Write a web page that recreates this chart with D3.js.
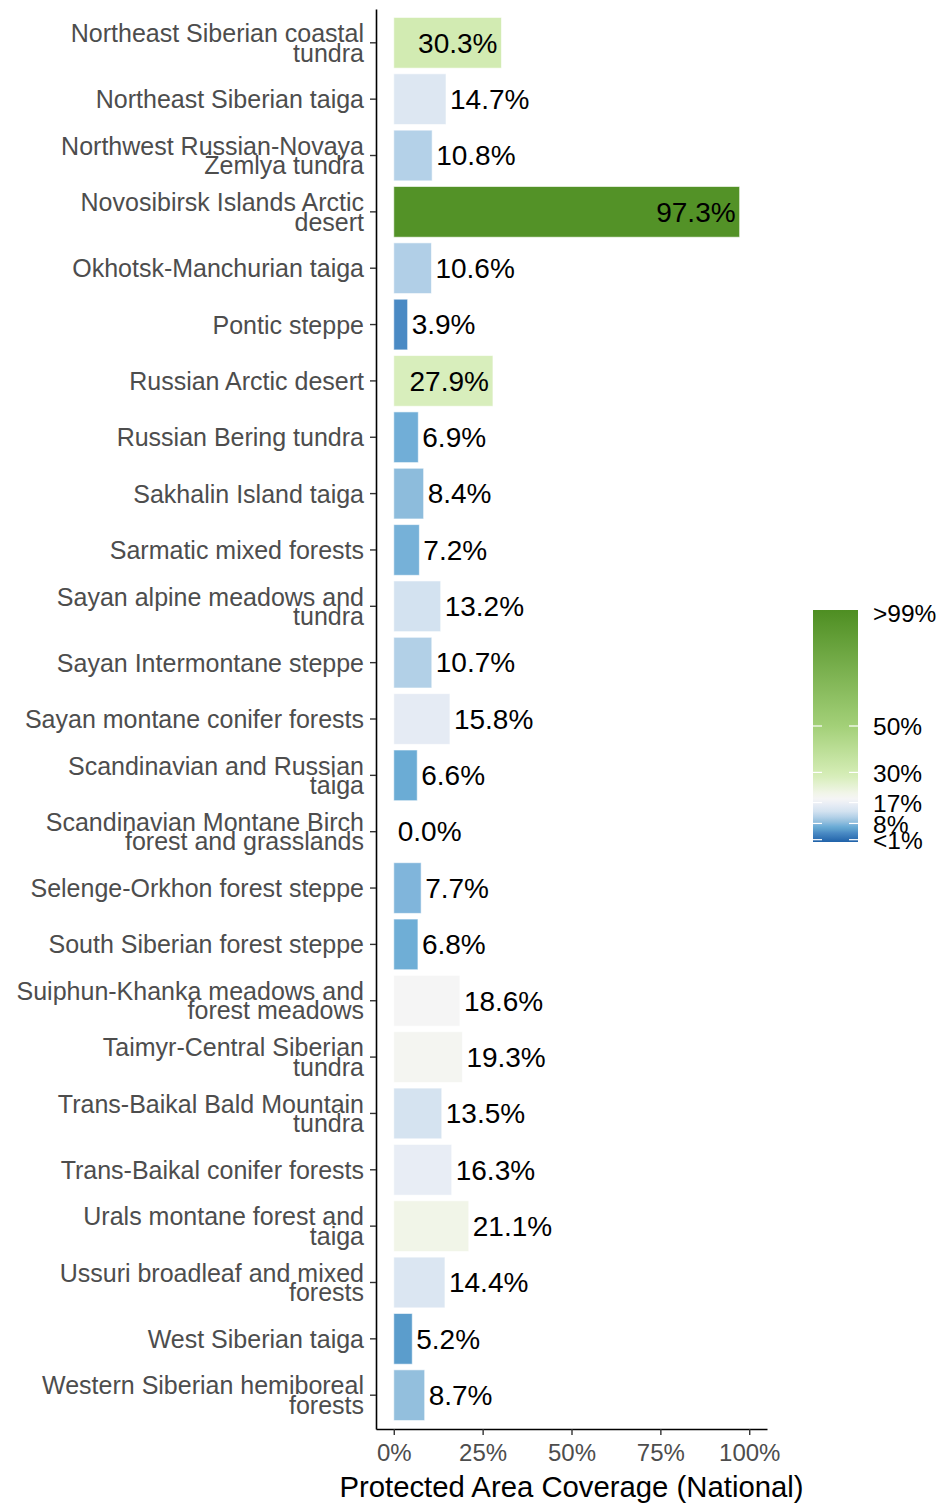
<!DOCTYPE html>
<html>
<head>
<meta charset="utf-8">
<script src="https://cdn.jsdelivr.net/npm/d3@7"></script>
<style>
  body { margin: 0; background: #fff; }
  text { font-family: "Liberation Sans", Arial, sans-serif; }
</style>
</head>
<body>
<div id="chart"></div>
<script>
// ecoregion names (line breaks as in the picture)
const regions = [
  "Northeast Siberian coastal\ntundra",
  "Northeast Siberian taiga",
  "Northwest Russian-Novaya\nZemlya tundra",
  "Novosibirsk Islands Arctic\ndesert",
  "Okhotsk-Manchurian taiga",
  "Pontic steppe",
  "Russian Arctic desert",
  "Russian Bering tundra",
  "Sakhalin Island taiga",
  "Sarmatic mixed forests",
  "Sayan alpine meadows and\ntundra",
  "Sayan Intermontane steppe",
  "Sayan montane conifer forests",
  "Scandinavian and Russian\ntaiga",
  "Scandinavian Montane Birch\nforest and grasslands",
  "Selenge-Orkhon forest steppe",
  "South Siberian forest steppe",
  "Suiphun-Khanka meadows and\nforest meadows",
  "Taimyr-Central Siberian\ntundra",
  "Trans-Baikal Bald Mountain\ntundra",
  "Trans-Baikal conifer forests",
  "Urals montane forest and\ntaiga",
  "Ussuri broadleaf and mixed\nforests",
  "West Siberian taiga",
  "Western Siberian hemiboreal\nforests"
];
const coverage = [30.3, 14.7, 10.8, 97.3, 10.6, 3.9, 27.9, 6.9, 8.4, 7.2, 13.2, 10.7, 15.8, 6.6, 0.0,
  7.7, 6.8, 18.6, 19.3, 13.5, 16.3, 21.1, 14.4, 5.2, 8.7];

const xTicks = [0, 25, 50, 75, 100];
const legendTicks = [1, 8, 17, 30, 50, 99];
const legendLabels = ["<1%", "8%", "17%", "30%", "50%", ">99%"];

// gradient stops of the fill scale
const colorStops = [0, 3.9, 5.2, 6.6, 7.7, 8.7, 10.8, 13.2, 16.3, 18.6, 21.1, 27.9, 30.3, 50, 100];
const colorValues = ["#2062a9", "#4a8ac4", "#5b9dcc", "#6bacd5", "#80b5db", "#93bfdd", "#b4d1e8",
  "#d3e2f0", "#e8edf5", "#f5f5f5", "#f1f5e8", "#d8eebc", "#d2ebb2", "#a3d078", "#4e8e22"];

const width = 939, height = 1505;
const plot = { left: 376, right: 767, top: 9, bottom: 1429 };

const svg = d3.select('#chart').append('svg')
  .attr('width', width)
  .attr('height', height);

const x = d3.scaleLinear().domain([-5, 105]).range([plot.left, plot.right]);
const y = d3.scaleBand().domain(regions).range([plot.top, plot.bottom])
  .paddingInner(0.1).paddingOuter(0.15);
const color = d3.scaleLinear().domain(colorStops).range(colorValues).clamp(true);

const data = regions.map((r, i) => ({ name: r, value: coverage[i] }));

// bars
svg.append('g')
  .selectAll('rect')
  .data(data)
  .join('rect')
    .attr('x', x(0))
    .attr('y', d => y(d.name))
    .attr('width', d => x(d.value) - x(0))
    .attr('height', y.bandwidth())
    .attr('fill', d => color(d.value))
    .attr('stroke', '#fff')
    .attr('stroke-opacity', 0.6)
    .attr('stroke-width', 1);

// value labels
svg.append('g')
  .selectAll('text')
  .data(data)
  .join('text')
    .attr('x', d => d.value > 25 ? x(d.value) - 4 : x(d.value) + 4)
    .attr('y', d => y(d.name) + y.bandwidth() / 2)
    .attr('dy', '0.35em')
    .attr('text-anchor', d => d.value > 25 ? 'end' : 'start')
    .attr('font-size', 28)
    .attr('fill', '#000')
    .text(d => d.value.toFixed(1) + '%');

// y axis
const yAxis = svg.append('g')
  .attr('transform', `translate(${plot.left},0)`)
  .call(d3.axisLeft(y).tickSize(6).tickSizeOuter(0).tickFormat(''));
yAxis.select('.domain').attr('stroke', '#000').attr('stroke-width', 1.6);
yAxis.selectAll('.tick line').attr('stroke', '#333').attr('stroke-width', 1.4);

yAxis.selectAll('.tick').each(function(d) {
  const lines = d.split('\n');
  const t = d3.select(this).append('text')
    .attr('x', -12)
    .attr('text-anchor', 'end')
    .attr('font-size', 25)
    .attr('fill', '#4d4d4d');
  lines.forEach((l, i) => {
    t.append('tspan')
      .attr('x', -12)
      .attr('y', 9 + (i - (lines.length - 1) / 2) * 19.5)
      .text(l);
  });
});

// x axis
const xAxis = svg.append('g')
  .attr('transform', `translate(0,${plot.bottom})`)
  .call(d3.axisBottom(x).tickValues(xTicks).tickSize(6).tickSizeOuter(0).tickFormat(d => d + '%'));
xAxis.select('.domain').attr('stroke', '#000').attr('stroke-width', 1.6);
xAxis.selectAll('.tick line').attr('stroke', '#333').attr('stroke-width', 1.4);
xAxis.selectAll('.tick text')
  .attr('font-size', 24)
  .attr('fill', '#4d4d4d')
  .attr('y', 10)
  .attr('dy', '0.9em')
  .style('font-family', '"Liberation Sans", Arial, sans-serif');

svg.append('text')
  .attr('x', (plot.left + plot.right) / 2)
  .attr('y', 1497)
  .attr('text-anchor', 'middle')
  .attr('font-size', 29.3)
  .attr('fill', '#000')
  .text('Protected Area Coverage (National)');

// legend colourbar
const leg = { x: 813, w: 45 };
const ly = d3.scaleLinear().domain([0, 100]).range([842, 610]);

const grad = svg.append('defs').append('linearGradient')
  .attr('id', 'legendGrad')
  .attr('x1', 0).attr('y1', 1).attr('x2', 0).attr('y2', 0);
grad.selectAll('stop')
  .data(colorStops)
  .join('stop')
    .attr('offset', d => (d / 100))
    .attr('stop-color', (d, i) => colorValues[i]);

svg.append('rect')
  .attr('x', leg.x)
  .attr('y', ly(100))
  .attr('width', leg.w)
  .attr('height', ly(0) - ly(100))
  .attr('fill', 'url(#legendGrad)');

const legTicks = svg.append('g');
legendTicks.forEach((v, i) => {
  if (v < 99) {
    legTicks.append('line')
      .attr('x1', leg.x).attr('x2', leg.x + 9)
      .attr('y1', ly(v)).attr('y2', ly(v))
      .attr('stroke', '#fff').attr('stroke-width', 1.2);
    legTicks.append('line')
      .attr('x1', leg.x + leg.w - 9).attr('x2', leg.x + leg.w)
      .attr('y1', ly(v)).attr('y2', ly(v))
      .attr('stroke', '#fff').attr('stroke-width', 1.2);
  }
  legTicks.append('text')
    .attr('x', 873)
    .attr('y', ly(v))
    .attr('dy', '0.38em')
    .attr('font-size', 24.5)
    .attr('fill', '#000')
    .text(legendLabels[i]);
});
</script>
</body>
</html>
